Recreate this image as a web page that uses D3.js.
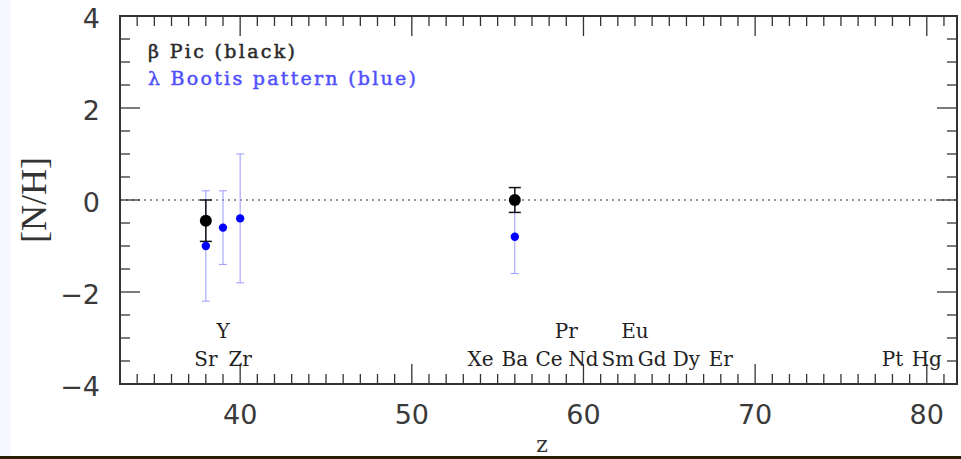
<!DOCTYPE html>
<html>
<head>
<meta charset="utf-8">
<script src="https://cdn.jsdelivr.net/npm/d3@7"></script>
<style>
  body { margin: 0; background: #fff; }
  svg { display: block; }
  .tick-label { font-family: "DejaVu Sans", "Liberation Sans", sans-serif; fill: #3a3a3a; }
  .elem { font-family: "DejaVu Serif", "Liberation Serif", serif; fill: #222; }
</style>
</head>
<body>
<div id="chart"></div>
<script>
// beta Pic (black)
const picZ = [38, 56]
const picVal = [-0.45, 0.0]
const picErr = [0.45, 0.27]

// lambda Bootis pattern (blue)
const lbZ = [38, 39, 40, 56]
const lbVal = [-1.0, -0.6, -0.4, -0.8]
const lbErr = [1.2, 0.8, 1.4, 0.8]

// element labels along the bottom
const elemNames = ["Sr", "Zr", "Y", "Xe", "Ba", "Ce", "Pr", "Nd", "Sm", "Eu", "Gd", "Dy", "Er", "Pt", "Hg"]
const elemZ = [38, 40, 39, 54, 56, 58, 59, 60, 62, 63, 64, 66, 68, 78, 80]
const elemRow = [0, 0, 1, 0, 0, 0, 1, 0, 0, 1, 0, 0, 0, 0, 0]

const xTicks = [40, 50, 60, 70, 80]
const yTicks = [-4, -2, 0, 2, 4]

const W = 961, H = 459
const frame = { left: 120, right: 957, top: 16, bottom: 384 }

const svg = d3.select("#chart").append("svg")
  .attr("width", W)
  .attr("height", H)

// faint strip on the left and dark line at the bottom of the screenshot
svg.append("rect").attr("x", 0).attr("y", 0).attr("width", 11).attr("height", 456).attr("fill", "#f6f8fd")
svg.append("rect").attr("x", 0).attr("y", 456).attr("width", W).attr("height", 3).attr("fill", "#2a1d08")

const x = d3.scaleLinear().domain([33, 81.76]).range([frame.left, frame.right])
const y = d3.scaleLinear().domain([-4, 4]).range([frame.bottom, frame.top])

const axisColor = "#333"
const plot = svg.append("g")

// minor/major ticks on all four sides, pointing inward
const xMinor = d3.range(34, 82, 1)
const yMinor = d3.range(-3.5, 4, 0.5)

function tickLen(isMajor) { return isMajor ? 20 : 10 }

plot.selectAll(".xt-b").data(xMinor).enter().append("line")
  .attr("x1", d => x(d)).attr("x2", d => x(d))
  .attr("y1", frame.bottom).attr("y2", d => frame.bottom - tickLen(d % 10 === 0))
  .attr("stroke", axisColor).attr("stroke-width", 1.3)
plot.selectAll(".xt-t").data(xMinor).enter().append("line")
  .attr("x1", d => x(d)).attr("x2", d => x(d))
  .attr("y1", frame.top).attr("y2", d => frame.top + tickLen(d % 10 === 0))
  .attr("stroke", axisColor).attr("stroke-width", 1.3)
plot.selectAll(".yt-l").data(yMinor).enter().append("line")
  .attr("y1", d => y(d)).attr("y2", d => y(d))
  .attr("x1", frame.left).attr("x2", d => frame.left + tickLen(d % 2 === 0))
  .attr("stroke", axisColor).attr("stroke-width", 1.3)
plot.selectAll(".yt-r").data(yMinor).enter().append("line")
  .attr("y1", d => y(d)).attr("y2", d => y(d))
  .attr("x1", frame.right).attr("x2", d => frame.right - tickLen(d % 2 === 0))
  .attr("stroke", axisColor).attr("stroke-width", 1.3)

// frame
plot.append("rect")
  .attr("x", frame.left).attr("y", frame.top)
  .attr("width", frame.right - frame.left).attr("height", frame.bottom - frame.top)
  .attr("fill", "none").attr("stroke", axisColor).attr("stroke-width", 2)

// tick labels
svg.selectAll(".xl").data(xTicks).enter().append("text")
  .attr("class", "tick-label")
  .attr("x", d => x(d)).attr("y", 424)
  .attr("text-anchor", "middle").attr("font-size", 27)
  .text(d => d)
svg.selectAll(".yl").data(yTicks).enter().append("text")
  .attr("class", "tick-label")
  .attr("x", 100).attr("y", d => y(d) + 12)
  .attr("text-anchor", "end").attr("font-size", 27)
  .text(d => d < 0 ? "\u2212" + Math.abs(d) : d)

// axis titles
svg.append("text")
  .attr("transform", "translate(46,200) rotate(-90)")
  .attr("text-anchor", "middle")
  .attr("font-family", "Liberation Serif, DejaVu Serif, serif")
  .attr("font-size", 36).attr("fill", "#333")
  .text("[N/H]")
svg.append("text")
  .attr("x", 542).attr("y", 452)
  .attr("text-anchor", "middle")
  .attr("font-family", "DejaVu Serif, serif")
  .attr("font-size", 22).attr("fill", "#333")
  .text("z")

// zero line
plot.append("line")
  .attr("x1", frame.left).attr("x2", frame.right)
  .attr("y1", y(0)).attr("y2", y(0))
  .attr("stroke", "#333").attr("stroke-width", 1.2)
  .attr("stroke-dasharray", "2,4")

// legend
svg.append("text")
  .attr("x", 148).attr("y", 58)
  .attr("font-family", "DejaVu Serif, serif").attr("font-size", 19)
  .attr("fill", "#2a2a2a").attr("stroke", "#2a2a2a").attr("stroke-width", 0.5)
  .attr("textLength", 147)
  .text("\u03b2 Pic (black)")
svg.append("text")
  .attr("x", 148).attr("y", 85)
  .attr("font-family", "DejaVu Serif, serif").attr("font-size", 19)
  .attr("fill", "#5050ff").attr("stroke", "#5050ff").attr("stroke-width", 0.5)
  .attr("textLength", 268)
  .text("\u03bb Bootis pattern (blue)")

// element labels
svg.selectAll(".elem").data(elemNames).enter().append("text")
  .attr("class", "elem")
  .attr("x", (d, i) => x(elemZ[i]))
  .attr("y", (d, i) => elemRow[i] === 1 ? 338 : 366)
  .attr("text-anchor", "middle").attr("font-size", 20)
  .text(d => d)

// blue error bars and points
const lb = lbZ.map((z, i) => ({ z: z, v: lbVal[i], e: lbErr[i] }))
const blueBar = "#9a9aff"
plot.selectAll(".lb-bar").data(lb).enter().append("line")
  .attr("x1", d => x(d.z)).attr("x2", d => x(d.z))
  .attr("y1", d => y(d.v + d.e)).attr("y2", d => y(d.v - d.e))
  .attr("stroke", blueBar).attr("stroke-width", 1)
plot.selectAll(".lb-cap-t").data(lb).enter().append("line")
  .attr("x1", d => x(d.z) - 4).attr("x2", d => x(d.z) + 4)
  .attr("y1", d => y(d.v + d.e)).attr("y2", d => y(d.v + d.e))
  .attr("stroke", blueBar).attr("stroke-width", 1)
plot.selectAll(".lb-cap-b").data(lb).enter().append("line")
  .attr("x1", d => x(d.z) - 4).attr("x2", d => x(d.z) + 4)
  .attr("y1", d => y(d.v - d.e)).attr("y2", d => y(d.v - d.e))
  .attr("stroke", blueBar).attr("stroke-width", 1)

// black error bars and points
const pic = picZ.map((z, i) => ({ z: z, v: picVal[i], e: picErr[i] }))
plot.selectAll(".pic-bar").data(pic).enter().append("line")
  .attr("x1", d => x(d.z)).attr("x2", d => x(d.z))
  .attr("y1", d => y(d.v + d.e)).attr("y2", d => y(d.v - d.e))
  .attr("stroke", "#111").attr("stroke-width", 1.5)
plot.selectAll(".pic-cap-t").data(pic).enter().append("line")
  .attr("x1", d => x(d.z) - 6).attr("x2", d => x(d.z) + 6)
  .attr("y1", d => y(d.v + d.e)).attr("y2", d => y(d.v + d.e))
  .attr("stroke", "#111").attr("stroke-width", 1.5)
plot.selectAll(".pic-cap-b").data(pic).enter().append("line")
  .attr("x1", d => x(d.z) - 6).attr("x2", d => x(d.z) + 6)
  .attr("y1", d => y(d.v - d.e)).attr("y2", d => y(d.v - d.e))
  .attr("stroke", "#111").attr("stroke-width", 1.5)
plot.selectAll(".pic-dot").data(pic).enter().append("circle")
  .attr("cx", d => x(d.z)).attr("cy", d => y(d.v)).attr("r", 6)
  .attr("fill", "#000")

plot.selectAll(".lb-dot").data(lb).enter().append("circle")
  .attr("cx", d => x(d.z)).attr("cy", d => y(d.v)).attr("r", 4.2)
  .attr("fill", "#0000ff")
</script>
</body>
</html>
